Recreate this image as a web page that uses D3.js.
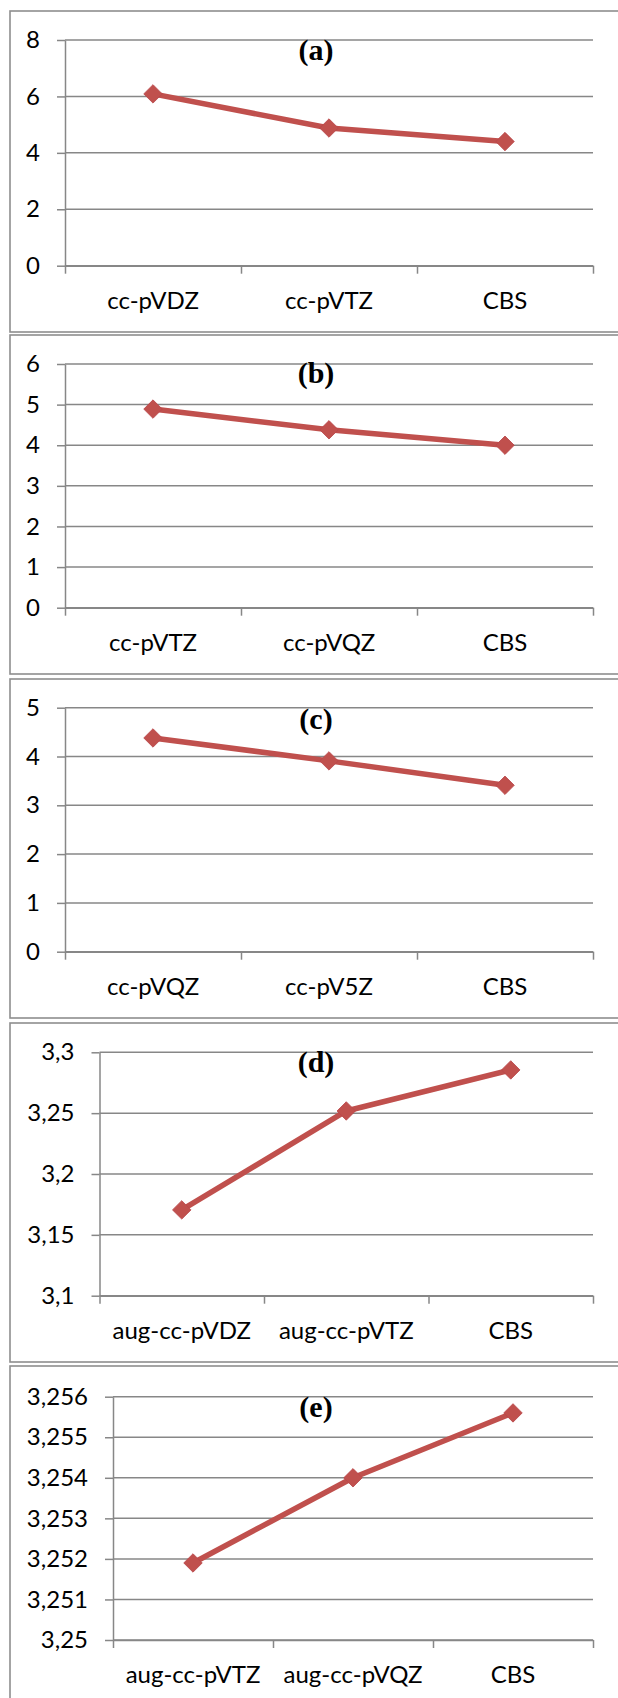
<!DOCTYPE html>
<html>
<head>
<meta charset="utf-8">
<script src="https://cdn.jsdelivr.net/npm/d3@7"></script>
<style>
  html, body { margin: 0; padding: 0; background: #fff; }
  svg { display: block; }
</style>
</head>
<body>
<svg id="chart" width="618" height="1698"></svg>
<script>
// Convergence of the computed value with basis-set size, five panels.
const panelTitles = ["(a)", "(b)", "(c)", "(d)", "(e)"];

const categoriesA = ["cc-pVDZ", "cc-pVTZ", "CBS"];
const valuesA = [6.09, 4.88, 4.40];
const ticksA = [0, 2, 4, 6, 8];

const categoriesB = ["cc-pVTZ", "cc-pVQZ", "CBS"];
const valuesB = [4.89, 4.38, 4.00];
const ticksB = [0, 1, 2, 3, 4, 5, 6];

const categoriesC = ["cc-pVQZ", "cc-pV5Z", "CBS"];
const valuesC = [4.38, 3.91, 3.41];
const ticksC = [0, 1, 2, 3, 4, 5];

const categoriesD = ["aug-cc-pVDZ", "aug-cc-pVTZ", "CBS"];
const valuesD = [3.1705, 3.2518, 3.2855];
const ticksD = [3.1, 3.15, 3.2, 3.25, 3.3];

const categoriesE = ["aug-cc-pVTZ", "aug-cc-pVQZ", "CBS"];
const valuesE = [3.2519, 3.2540, 3.2556];
const ticksE = [3.25, 3.251, 3.252, 3.253, 3.254, 3.255, 3.256];

// Decimal comma for the value axis
const locale = d3.formatLocale({decimal: ",", thousands: ".", grouping: [3], currency: ["", ""]});
const fmt = locale.format("~g");

// Frame geometry of each panel on the page
const layout = [
  {boxTop: 11,   boxBottom: 332,  left: 65,  yTop: 40,   yBottom: 265.7, titleY: 60},
  {boxTop: 335,  boxBottom: 674,  left: 65,  yTop: 364,  yBottom: 607.7, titleY: 383},
  {boxTop: 679,  boxBottom: 1018, left: 65,  yTop: 707.7, yBottom: 951.7, titleY: 729},
  {boxTop: 1023, boxBottom: 1362, left: 99.5, yTop: 1052.3, yBottom: 1295.7, titleY: 1072},
  {boxTop: 1366, boxBottom: 1760, left: 113, yTop: 1396.7, yBottom: 1640, titleY: 1417}
];

const panels = [
  {cats: categoriesA, vals: valuesA, ticks: ticksA},
  {cats: categoriesB, vals: valuesB, ticks: ticksB},
  {cats: categoriesC, vals: valuesC, ticks: ticksC},
  {cats: categoriesD, vals: valuesD, ticks: ticksD},
  {cats: categoriesE, vals: valuesE, ticks: ticksE}
];

const plotRight = 593;
const gridColor = "#878787";
const seriesColor = "#C0504D";
const labelFont = "Lato, 'Open Sans', sans-serif";
const labelSize = 24;

const svg = d3.select("#chart");

panels.forEach((p, i) => {
  const L = layout[i];
  const g = svg.append("g");

  // outer frame
  g.append("rect")
    .attr("x", 10).attr("y", L.boxTop)
    .attr("width", 640).attr("height", L.boxBottom - L.boxTop)
    .attr("fill", "none").attr("stroke", "#8e8e8e").attr("stroke-width", 1.6);

  const y = d3.scaleLinear()
    .domain([d3.min(p.ticks), d3.max(p.ticks)])
    .range([L.yBottom, L.yTop]);

  const xBand = d3.scaleBand().domain(p.cats).range([L.left, plotRight]).paddingInner(0).paddingOuter(0);
  const xEdge = d3.scaleLinear().domain([0, p.cats.length]).range([L.left, plotRight]);

  // horizontal gridlines
  g.append("g").selectAll("line").data(p.ticks).join("line")
    .attr("x1", L.left).attr("x2", plotRight)
    .attr("y1", d => y(d)).attr("y2", d => y(d))
    .attr("stroke", gridColor).attr("stroke-width", 1.5);

  // value axis
  const yAxis = g.append("g")
    .attr("transform", `translate(${L.left},0)`)
    .call(d3.axisLeft(y).tickValues(p.ticks).tickFormat(fmt).tickSize(8).tickSizeOuter(0).tickPadding(17));
  yAxis.select(".domain").attr("stroke", gridColor).attr("stroke-width", 1.5);
  yAxis.selectAll(".tick line").attr("stroke", gridColor).attr("stroke-width", 1.5);
  yAxis.selectAll(".tick text")
    .attr("font-family", labelFont).attr("font-size", labelSize).attr("fill", "#000");

  // category axis: tick marks between categories
  const xAxis = g.append("g")
    .attr("transform", `translate(0,${L.yBottom})`)
    .call(d3.axisBottom(xEdge).tickValues(d3.range(p.cats.length + 1)).tickFormat("").tickSize(8).tickSizeOuter(0));
  xAxis.select(".domain").attr("stroke", gridColor).attr("stroke-width", 1.5);
  xAxis.selectAll(".tick line").attr("stroke", gridColor).attr("stroke-width", 1.5);

  // category labels
  const xLab = g.append("g")
    .attr("transform", `translate(0,${L.yBottom})`)
    .call(d3.axisBottom(xBand).tickSize(0).tickPadding(26));
  xLab.select(".domain").remove();
  xLab.selectAll(".tick text")
    .attr("font-family", labelFont).attr("font-size", labelSize).attr("fill", "#000");

  // series line
  const cx = c => xBand(c) + xBand.bandwidth() / 2;
  const line = d3.line().x((d, k) => cx(p.cats[k])).y(d => y(d));
  g.append("path").datum(p.vals)
    .attr("d", line)
    .attr("fill", "none").attr("stroke", seriesColor)
    .attr("stroke-width", 5.5).attr("stroke-linejoin", "round");

  // diamond markers
  const diamond = d3.symbol(d3.symbolSquare, 170);
  g.append("g").selectAll("path").data(p.vals).join("path")
    .attr("transform", (d, k) => `translate(${cx(p.cats[k])},${y(d)}) rotate(45)`)
    .attr("d", diamond)
    .attr("fill", seriesColor).attr("stroke", "#b9474a").attr("stroke-width", 0.8);

  // panel title
  g.append("text")
    .attr("x", 316).attr("y", L.titleY)
    .attr("text-anchor", "middle")
    .attr("font-family", "'Liberation Serif', 'Times New Roman', serif")
    .attr("font-weight", "bold").attr("font-size", 30)
    .text(panelTitles[i]);
});
</script>
</body>
</html>
